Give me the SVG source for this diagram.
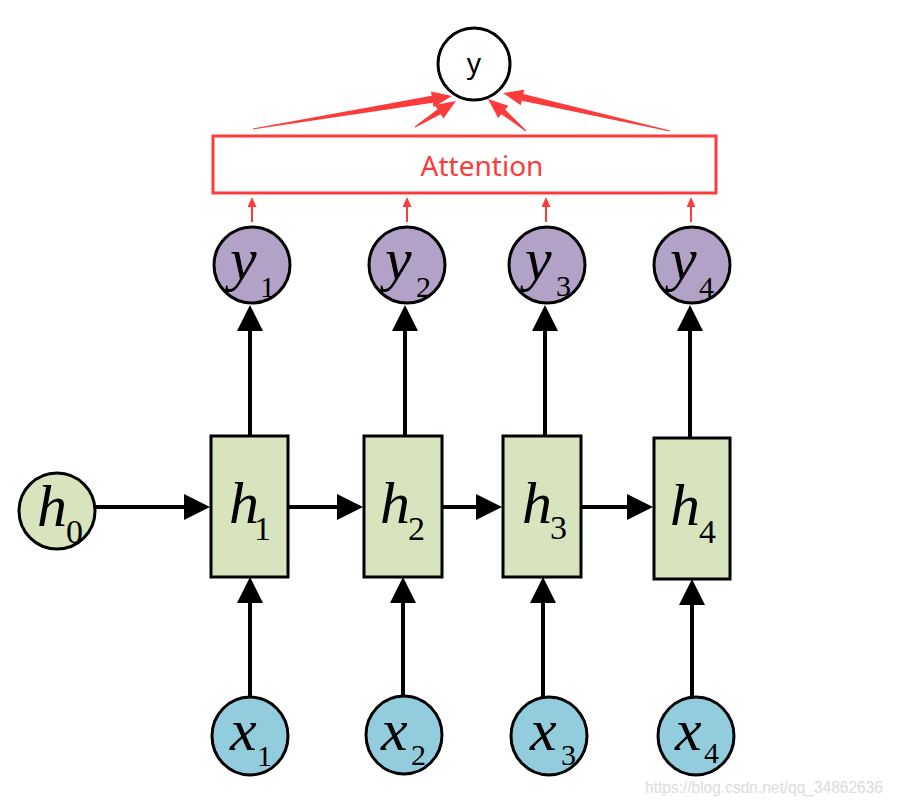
<svg xmlns="http://www.w3.org/2000/svg" width="897" height="807" viewBox="0 0 897 807">
<style>
.bk{stroke:#000;stroke-width:4;fill:none}
.rd{stroke:#fc3b3b;stroke-width:2;fill:none}
.rdf{fill:#fc3b3b;stroke:none}
.nodeY{fill:#b3a2c7;stroke:#000;stroke-width:3}
.nodeH{fill:#d7e4bd;stroke:#000;stroke-width:3}
.nodeX{fill:#93cddd;stroke:#000;stroke-width:3}
.var{font-family:"Liberation Serif","Times New Roman",serif;font-style:italic;font-size:60px;fill:#000}
.sub{font-family:"Liberation Serif","Times New Roman",serif;font-style:normal;font-size:34px}
.subs{font-family:"Liberation Serif","Times New Roman",serif;font-style:normal;font-size:30px}
.sans{font-family:"Noto Sans","Open Sans","Liberation Sans",sans-serif}
</style>
<defs>
<marker id="ah" viewBox="0 0 26 26" refX="16" refY="13" markerWidth="26" markerHeight="26" markerUnits="userSpaceOnUse" orient="auto">
<path d="M0,0 L26,13 L0,26 z" fill="#000"/>
</marker>
<marker id="rh" viewBox="0 0 10 9" refX="6" refY="4.5" markerWidth="10" markerHeight="9" markerUnits="userSpaceOnUse" orient="auto">
<path d="M0,0 L10,4.5 L0,9 z" fill="#fc3b3b"/>
</marker>
</defs>
<rect width="897" height="807" fill="#fff"/>

<g id="connectors">
<line class="bk" x1="250" y1="697" x2="250" y2="587" marker-end="url(#ah)"/>
<line class="bk" x1="403" y1="695" x2="403" y2="587" marker-end="url(#ah)"/>
<line class="bk" x1="543" y1="697" x2="543" y2="587" marker-end="url(#ah)"/>
<line class="bk" x1="692" y1="697" x2="692" y2="589" marker-end="url(#ah)"/>
<line class="bk" x1="250" y1="436" x2="250" y2="315" marker-end="url(#ah)"/>
<line class="bk" x1="405" y1="436" x2="405" y2="315" marker-end="url(#ah)"/>
<line class="bk" x1="545" y1="436" x2="545" y2="315" marker-end="url(#ah)"/>
<line class="bk" x1="690" y1="438" x2="690" y2="315" marker-end="url(#ah)"/>
<line class="bk" x1="95" y1="507" x2="200" y2="507" marker-end="url(#ah)"/>
<line class="bk" x1="288" y1="507" x2="353" y2="507" marker-end="url(#ah)"/>
<line class="bk" x1="442" y1="507" x2="492" y2="507" marker-end="url(#ah)"/>
<line class="bk" x1="581" y1="507" x2="643" y2="507" marker-end="url(#ah)"/>
<line class="rd" x1="252" y1="222" x2="252" y2="201" marker-end="url(#rh)"/>
<line class="rd" x1="407" y1="222" x2="407" y2="201" marker-end="url(#rh)"/>
<line class="rd" x1="546" y1="222" x2="546" y2="201" marker-end="url(#rh)"/>
<line class="rd" x1="691" y1="222" x2="691" y2="201" marker-end="url(#rh)"/>
<polygon class="rdf" points="253.08,129.49 432.84,102.72 433.58,107.16 452,96 430.96,91.38 431.70,95.82 252.92,128.51"/>
<polygon class="rdf" points="415.27,127.42 440.72,114.24 443.39,118.47 456,101 434.83,104.95 437.50,109.18 414.73,126.58"/>
<polygon class="rdf" points="526.32,130.62 505.23,109.59 508.45,105.76 488,99 498.15,118.0 501.37,114.17 525.68,131.38"/>
<polygon class="rdf" points="670.11,130.51 523.28,94.03 524.28,89.64 503,93 520.73,105.24 521.72,100.85 669.89,131.49"/>
</g>

<g id="node-y">
<circle cx="474" cy="64" r="36" fill="#fff" stroke="#000" stroke-width="3"/>
<text class="sans" x="474" y="73" font-size="28" text-anchor="middle" fill="#000">y</text>
</g>
<g id="node-attention">
<rect x="213" y="136" width="503" height="57" fill="none" stroke="#fc3b3b" stroke-width="3"/>
<text class="sans" x="482" y="176" font-size="28" text-anchor="middle" fill="#fc3b3b">Attention</text>
</g>

<g id="node-y1"><circle class="nodeY" cx="252" cy="265" r="38"/>
<text class="var" x="230" y="279">y<tspan class="subs" x="260" y="297">1</tspan></text></g>
<g id="node-y2"><circle class="nodeY" cx="407" cy="265" r="38"/>
<text class="var" x="385" y="279">y<tspan class="subs" x="416" y="297">2</tspan></text></g>
<g id="node-y3"><circle class="nodeY" cx="547" cy="265" r="38"/>
<text class="var" x="525" y="279">y<tspan class="subs" x="556" y="296">3</tspan></text></g>
<g id="node-y4"><circle class="nodeY" cx="692" cy="265" r="38"/>
<text class="var" x="670" y="279">y<tspan class="subs" x="699" y="297">4</tspan></text></g>

<g id="node-h0"><circle class="nodeH" cx="57" cy="511" r="38"/>
<text class="var" x="37" y="526">h<tspan class="sub" x="66" y="543">0</tspan></text></g>
<g id="node-h1"><rect class="nodeH" x="211" y="436" width="77" height="141"/>
<text class="var" x="229" y="523">h<tspan class="sub" x="254" y="540">1</tspan></text></g>
<g id="node-h2"><rect class="nodeH" x="364" y="436" width="78" height="141"/>
<text class="var" x="380" y="523">h<tspan class="sub" x="408" y="540">2</tspan></text></g>
<g id="node-h3"><rect class="nodeH" x="503" y="436" width="78" height="141"/>
<text class="var" x="522" y="523">h<tspan class="sub" x="550" y="539">3</tspan></text></g>
<g id="node-h4"><rect class="nodeH" x="654" y="438" width="76" height="141"/>
<text class="var" x="670" y="525">h<tspan class="sub" x="699" y="543">4</tspan></text></g>

<g id="node-x1"><ellipse class="nodeX" cx="250" cy="736" rx="38" ry="39"/>
<text class="var" x="230" y="750">x<tspan class="subs" x="257" y="766">1</tspan></text></g>
<g id="node-x2"><ellipse class="nodeX" cx="404" cy="735" rx="38" ry="39"/>
<text class="var" x="381" y="750">x<tspan class="subs" x="411" y="765">2</tspan></text></g>
<g id="node-x3"><ellipse class="nodeX" cx="549" cy="736" rx="38" ry="39"/>
<text class="var" x="530" y="750">x<tspan class="subs" x="561" y="765">3</tspan></text></g>
<g id="node-x4"><ellipse class="nodeX" cx="696" cy="736" rx="38" ry="39"/>
<text class="var" x="675" y="750">x<tspan class="subs" x="704" y="763">4</tspan></text></g>

<text x="645" y="793" font-family="'Liberation Sans',Arial,sans-serif" font-size="17" fill="#dcdcdc" textLength="238" lengthAdjust="spacingAndGlyphs">https://blog.csdn.net/qq_34862636</text>
</svg>
